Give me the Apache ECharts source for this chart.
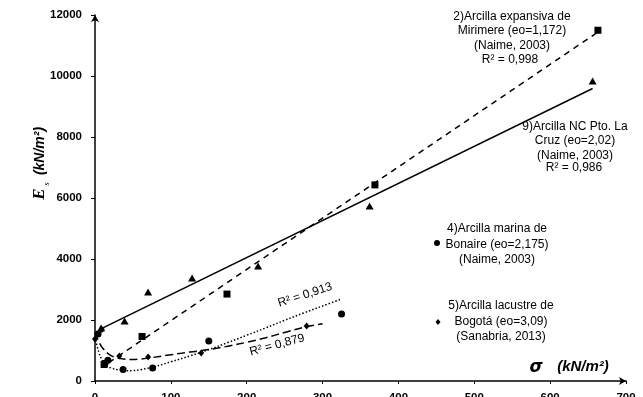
<!DOCTYPE html>
<html><head><meta charset="utf-8">
<script src="https://cdn.jsdelivr.net/npm/echarts@6/dist/echarts.min.js"></script>
<style>html,body{margin:0;padding:0;background:#fff}#c{width:643px;height:397px}</style>
</head><body><div id="c"></div>
<script>
// ---- data ----
const xTicks = [0,100,200,300,400,500,600,700];
const yTicks = [0,2000,4000,6000,8000,10000,12000];
// 2) Arcilla expansiva de Mirimere (squares)
const mirimere = [[12,540],[62,1460],[174,2850],[369,6430],[663,11500]];
const mirimereFit = [[18,600],[663,11440]];
// 9) Arcilla NC Pto. La Cruz (triangles)
const laCruz = [[8,1740],[39,1970],[70,2920],[128,3380],[215,3770],[362,5740],[656,9840]];
const laCruzFit = [[7,1700],[656,9590]];
// 4) Arcilla marina de Bonaire (circles)
const bonaire = [[4,1540],[13,580],[17,680],[37,380],[76,430],[150,1310],[325,2200]];
const bonaireFit = [[0,1450],[5,950],[10,660],[15,510],[20,440],[30,370],[40,340],[50,340],[60,370],[80,480],[100,630],[125,820],[150,1030],[175,1260],[200,1500],[225,1740],[250,1990],[275,2230],[300,2460],[325,2690]];
// 5) Arcilla lacustre de Bogotá (diamonds)
const bogota = [[0,1380],[9,1690],[14,560],[32,820],[70,790],[140,920],[279,1800]];
const bogotaFit = [[0,1600],[5,1300],[10,1080],[20,850],[30,750],[40,715],[50,705],[60,720],[70,750],[100,860],[125,950],[150,1030],[175,1140],[200,1270],[225,1420],[250,1590],[275,1760],[300,1880]];

const FONT = '"Liberation Sans", Arial, sans-serif';
const chart = echarts.init(document.getElementById('c'), null, {renderer:'canvas'});
function block(x, y, text, lh, align, font) {
  return {type:'text', x:x, y:y, silent:true, style:{
    text:text, font:font || ('12px ' + FONT), fill:'#000',
    textAlign:'center', textVerticalAlign:align||'top', align:'center', verticalAlign:align||'top', lineHeight:lh||15
  }};
}
function rot(x, y, text, deg, font) {
  const b = block(x, y, text, 15, 'middle', font);
  b.rotation = deg*Math.PI/180;
  return b;
}
const option = {
  animation:false,
  backgroundColor:'#fff',
  grid:{left:95, right:17, top:15, bottom:16, containLabel:false, outerBoundsMode:'none'},
  xAxis:{type:'value', min:xTicks[0], max:xTicks[xTicks.length-1], interval:100,
    splitLine:{show:false},
    axisLine:{show:true, onZero:false, symbol:['none','arrow'], symbolSize:[6,7], lineStyle:{color:'#000', width:1.5}},
    axisTick:{show:true, length:3, lineStyle:{color:'#000', width:1}},
    axisLabel:{color:'#000', fontFamily:FONT, fontWeight:'bold', fontSize:11.5, margin:11, formatter:v=>String(v)}},
  yAxis:{type:'value', min:yTicks[0], max:yTicks[yTicks.length-1], interval:2000,
    splitLine:{show:false},
    axisLine:{show:true, onZero:false, symbol:['none','arrow'], symbolSize:[6,7], lineStyle:{color:'#000', width:1.5}},
    axisTick:{show:true, length:4, lineStyle:{color:'#000', width:1}},
    axisLabel:{color:'#000', fontFamily:FONT, fontWeight:'bold', fontSize:11.5, margin:13, formatter:v=>String(v)}},
  series:[
    {type:'line', data:mirimereFit, showSymbol:false, symbol:'none', lineStyle:{color:'#000', width:1.5, type:[6,5]}, z:2},
    {type:'line', data:laCruzFit, showSymbol:false, symbol:'none', lineStyle:{color:'#000', width:1.5, type:'solid'}, z:2},
    {type:'line', data:bonaireFit, smooth:0.4, showSymbol:false, symbol:'none', lineStyle:{color:'#000', width:1.5, type:[1.5,2]}, z:2},
    {type:'line', data:bogotaFit, smooth:0.4, showSymbol:false, symbol:'none', lineStyle:{color:'#000', width:1.5, type:[8,4]}, z:2},
    {type:'scatter', data:mirimere, symbol:'rect', symbolSize:7, itemStyle:{color:'#000', opacity:1}, z:3},
    {type:'scatter', data:laCruz, symbol:'triangle', symbolSize:[8,7], itemStyle:{color:'#000', opacity:1}, z:3},
    {type:'scatter', data:bonaire, symbol:'circle', symbolSize:7, itemStyle:{color:'#000', opacity:1}, z:3},
    {type:'scatter', data:bogota, symbol:'diamond', symbolSize:[6,7], itemStyle:{color:'#000', opacity:1}, z:3}
  ],
  graphic:[
    block(512, 9, '2)Arcilla expansiva de\nMirimere (eo=1,172)\n(Naime, 2003)', 14.5),
    block(510, 60, 'R² = 0,998', 15, 'middle'),
    block(575, 119, '9)Arcilla NC Pto. La\nCruz (eo=2,02)\n(Naime, 2003)', 14.5),
    block(574, 168, 'R² = 0,986', 15, 'middle'),
    block(497, 221, '4)Arcilla marina de\nBonaire (eo=2,175)\n(Naime, 2003)', 15.5),
    block(501, 298, '5)Arcilla lacustre de\nBogotá (eo=3,09)\n(Sanabria, 2013)', 15.5),
    {type:'circle', silent:true, shape:{cx:437, cy:243, r:3}, style:{fill:'#000'}},
    {type:'polygon', silent:true, shape:{points:[[438,319],[440.5,322],[438,325],[435.5,322]]}, style:{fill:'#000'}},
    rot(305, 295, 'R² = 0,913', 18),
    rot(277, 345, 'R² = 0,879', 15),
    // y-axis title
    rot(40, 194, 'E', 90, 'italic bold 17px "Liberation Serif", serif'),
    rot(47, 184, 's', 90, 'italic 8px "Liberation Serif", serif'),
    rot(40, 151, '(kN/m²)', 90, 'italic bold 14px ' + FONT),
    // x-axis title
    block(536, 368, 'σ', 15, 'middle', 'italic bold 17px "DejaVu Sans", sans-serif'),
    block(583, 367, '(kN/m²)', 15, 'middle', 'italic bold 15px ' + FONT)
  ]
};
chart.setOption(option);
</script></body></html>
